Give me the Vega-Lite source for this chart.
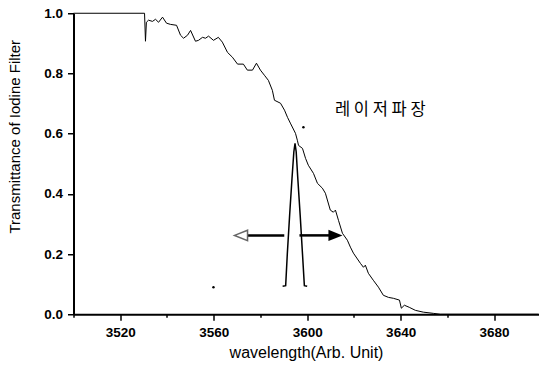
{
  "$schema": "https://vega.github.io/schema/vega-lite/v6.json",
  "padding": {"left": 6.5, "top": 6.25, "right": 0, "bottom": 5},
  "config": {
    "view": {"stroke": null},
    "axis": {
      "domain": true,
      "domainColor": "black", "domainWidth": 2,
      "tickColor": "black", "tickWidth": 1.5,
      "labelFont": "Liberation Sans", "labelFontWeight": "bold", "labelFontSize": 13.5, "labelColor": "black",
      "titleFont": "Liberation Sans", "titleFontWeight": "normal", "titleColor": "black",
      "grid": false, "zindex": 1
    }
  },
  "datasets": {
    "curvedata": [
      {"x": 3500, "y": 1.0}, {"x": 3530.4, "y": 1.0}, {"x": 3530.8, "y": 0.907}, {"x": 3531.2, "y": 0.97},
      {"x": 3532.1, "y": 0.977}, {"x": 3533.8, "y": 0.973}, {"x": 3535.1, "y": 0.98}, {"x": 3536.4, "y": 0.97},
      {"x": 3538.1, "y": 0.987}, {"x": 3539.8, "y": 0.967}, {"x": 3541.5, "y": 0.963}, {"x": 3544.1, "y": 0.96},
      {"x": 3545.8, "y": 0.927}, {"x": 3547.1, "y": 0.917}, {"x": 3548.8, "y": 0.927}, {"x": 3550.1, "y": 0.943},
      {"x": 3552.2, "y": 0.907}, {"x": 3553.5, "y": 0.91}, {"x": 3555.2, "y": 0.92}, {"x": 3556.5, "y": 0.917},
      {"x": 3557.8, "y": 0.924}, {"x": 3559.9, "y": 0.91}, {"x": 3562.0, "y": 0.92}, {"x": 3563.7, "y": 0.904},
      {"x": 3565.9, "y": 0.87}, {"x": 3568.0, "y": 0.854}, {"x": 3570.2, "y": 0.831}, {"x": 3572.7, "y": 0.831},
      {"x": 3574.4, "y": 0.811}, {"x": 3576.6, "y": 0.811}, {"x": 3578.3, "y": 0.834}, {"x": 3580.0, "y": 0.811},
      {"x": 3581.7, "y": 0.794}, {"x": 3583.4, "y": 0.777}, {"x": 3585.1, "y": 0.744}, {"x": 3586.0, "y": 0.711},
      {"x": 3588.6, "y": 0.701}, {"x": 3590.3, "y": 0.678}, {"x": 3591.6, "y": 0.654}, {"x": 3592.8, "y": 0.635},
      {"x": 3595.0, "y": 0.601}, {"x": 3595.8, "y": 0.578}, {"x": 3596.3, "y": 0.561}, {"x": 3598.0, "y": 0.551},
      {"x": 3599.3, "y": 0.518}, {"x": 3600.5, "y": 0.495}, {"x": 3602.7, "y": 0.468}, {"x": 3604.4, "y": 0.435},
      {"x": 3606.5, "y": 0.419}, {"x": 3607.8, "y": 0.402}, {"x": 3609.9, "y": 0.346}, {"x": 3611.2, "y": 0.339},
      {"x": 3612.1, "y": 0.346}, {"x": 3613.4, "y": 0.312}, {"x": 3615.1, "y": 0.269}, {"x": 3617.2, "y": 0.246},
      {"x": 3618.5, "y": 0.223}, {"x": 3619.8, "y": 0.203}, {"x": 3622.8, "y": 0.169}, {"x": 3624.1, "y": 0.156},
      {"x": 3624.9, "y": 0.163}, {"x": 3626.2, "y": 0.136}, {"x": 3628.3, "y": 0.113}, {"x": 3630.5, "y": 0.09},
      {"x": 3632.6, "y": 0.063}, {"x": 3634.8, "y": 0.056}, {"x": 3636.9, "y": 0.053}, {"x": 3639.5, "y": 0.047},
      {"x": 3640.3, "y": 0.02}, {"x": 3641.6, "y": 0.03}, {"x": 3643.7, "y": 0.023}, {"x": 3646.3, "y": 0.013},
      {"x": 3649.7, "y": 0.007}, {"x": 3654.0, "y": 0.003}, {"x": 3657.0, "y": 0.0}, {"x": 3699, "y": 0.0}
    ],
    "laserdata": [
      {"x": 3589.5, "y": 0.093}, {"x": 3590.8, "y": 0.095}, {"x": 3591.5, "y": 0.2}, {"x": 3592.5, "y": 0.33},
      {"x": 3593.5, "y": 0.45}, {"x": 3594.3, "y": 0.54}, {"x": 3594.8, "y": 0.568}, {"x": 3595.3, "y": 0.54},
      {"x": 3596.0, "y": 0.45}, {"x": 3597.0, "y": 0.33}, {"x": 3598.0, "y": 0.2}, {"x": 3598.8, "y": 0.095},
      {"x": 3600.0, "y": 0.093}
    ],
    "arrowdata": [
      {"x": 3590.2, "x2": 3574.4, "y": 0.262},
      {"x": 3596.7, "x2": 3609.5, "y": 0.262}
    ],
    "headdata": [
      {"x": 3571.7, "y": 0.262, "dir": "left"},
      {"x": 3612.1, "y": 0.262, "dir": "right"}
    ],
    "dotdata": [
      {"x": 3559.9, "y": 0.09},
      {"x": 3598.4, "y": 0.621}
    ],
    "notedata": [
      {"x": 3631.3, "y": 0.678, "note": "레 이 저 파 장"}
    ]
  },
  "vconcat": [
    {
      "width": 465,
      "height": 301,
      "layer": [
        {
          "data": {"name": "curvedata"},
          "mark": {"type": "line", "color": "black", "strokeWidth": 1},
          "encoding": {
            "x": {
              "field": "x", "type": "quantitative",
              "scale": {"domain": [3500, 3699], "nice": false, "zero": false},
              "axis": {
                "values": [3500, 3520, 3540, 3560, 3580, 3600, 3620, 3640, 3660, 3680],
                "labelExpr": "(datum.value - 3520) % 40 == 0 ? datum.value : ''",
                "tickSize": {"condition": {"test": "(datum.value - 3520) % 40 == 0", "value": 6}, "value": 3},
                "labelPadding": 5,
                "title": "wavelength(Arb. Unit)",
                "titleFontSize": 16,
                "titleY": 38, "titleBaseline": "middle"
              }
            },
            "y": {
              "field": "y", "type": "quantitative",
              "scale": {"domain": [0, 1], "nice": false},
              "axis": {
                "values": [0, 0.1, 0.2, 0.3, 0.4, 0.5, 0.6, 0.7, 0.8, 0.9, 1.0],
                "labelExpr": "round(datum.value * 10) % 2 == 0 ? format(datum.value, '.1f') : ''",
                "tickSize": {"condition": {"test": "round(datum.value * 10) % 2 == 0", "value": 6}, "value": 3},
                "labelPadding": 5,
                "title": "Transmittance of Iodine Filter",
                "titleFontSize": 15,
                "titleX": -59, "titleY": 123, "titleBaseline": "middle", "titleAlign": "center"
              }
            }
          }
        },
        {
          "mark": {"type": "rule", "color": "black", "strokeWidth": 2},
          "encoding": {"y": {"datum": 1}}
        },
        {
          "data": {"name": "laserdata"},
          "mark": {"type": "line", "color": "black", "strokeWidth": 1.5},
          "encoding": {
            "x": {"field": "x", "type": "quantitative"},
            "y": {"field": "y", "type": "quantitative"}
          }
        },
        {
          "data": {"name": "arrowdata"},
          "mark": {"type": "rule", "color": "black", "strokeWidth": 2.5},
          "encoding": {
            "x": {"field": "x", "type": "quantitative"},
            "x2": {"field": "x2"},
            "y": {"field": "y", "type": "quantitative"}
          }
        },
        {
          "data": {"name": "headdata"},
          "transform": [{"filter": "datum.dir == 'left'"}],
          "mark": {"type": "point", "shape": "M1,-0.8L-1,0L1,0.8Z", "size": 169, "filled": true, "fill": "white", "stroke": "#666666", "strokeWidth": 1.5, "opacity": 1},
          "encoding": {
            "x": {"field": "x", "type": "quantitative"},
            "y": {"field": "y", "type": "quantitative"}
          }
        },
        {
          "data": {"name": "headdata"},
          "transform": [{"filter": "datum.dir == 'right'"}],
          "mark": {"type": "point", "shape": "M-1,-0.8L1,0L-1,0.8Z", "size": 196, "filled": true, "color": "black", "opacity": 1},
          "encoding": {
            "x": {"field": "x", "type": "quantitative"},
            "y": {"field": "y", "type": "quantitative"}
          }
        },
        {
          "data": {"name": "dotdata"},
          "mark": {"type": "point", "shape": "circle", "size": 6, "filled": true, "color": "black", "opacity": 1},
          "encoding": {
            "x": {"field": "x", "type": "quantitative"},
            "y": {"field": "y", "type": "quantitative"}
          }
        },
        {
          "data": {"name": "notedata"},
          "mark": {"type": "text", "font": "Noto Sans CJK KR", "fontSize": 16.5, "color": "black", "align": "center", "baseline": "middle"},
          "encoding": {
            "x": {"field": "x", "type": "quantitative"},
            "y": {"field": "y", "type": "quantitative"},
            "text": {"field": "note"}
          }
        }
      ]
    }
  ]
}
